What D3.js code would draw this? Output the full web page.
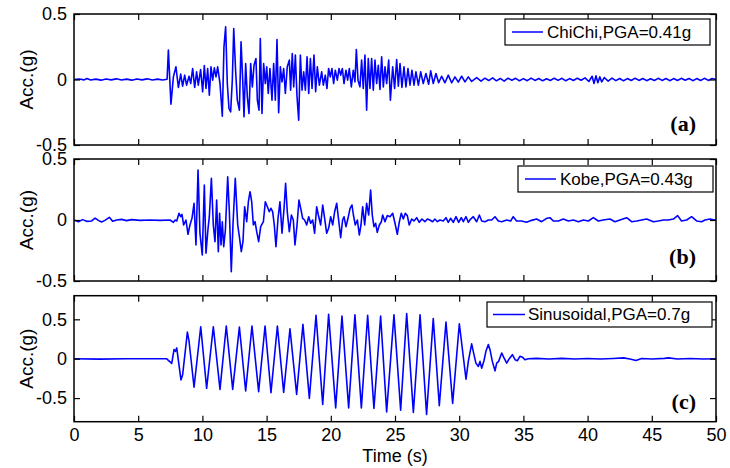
<!DOCTYPE html>
<html>
<head>
<meta charset="utf-8">
<script src="https://cdn.jsdelivr.net/npm/d3@7/dist/d3.min.js"></script>
<style>
  html, body { margin: 0; padding: 0; background: #fff; }
  svg { display: block; }
  text { font-family: "Liberation Sans", Arial, sans-serif; fill: #000; }
</style>
</head>
<body>
<svg id="chart" width="730" height="468"></svg>
<script>
// Time axis ticks (s) and acceleration ticks (g)
const timeTicks = [0, 5, 10, 15, 20, 25, 30, 35, 40, 45, 50];
const accTicks = [-0.5, 0, 0.5];

// Record names shown in the legends
const recordLabels = ["ChiChi,PGA=0.41g", "Kobe,PGA=0.43g", "Sinusoidal,PGA=0.7g"];
const panelTags = ["(a)", "(b)", "(c)"];

// ChiChi record: [time (s), acceleration (g)]
const chichiAcc = [
  [0,0],[0.4,0.004],[0.8,-0.003],[1.0,0.008],[1.3,-0.004],[1.7,0.003],[2.1,-0.005],[2.5,0.004],
  [2.9,-0.003],[3.3,0.005],[3.7,-0.004],[4.1,0.003],[4.5,-0.005],[4.9,0.004],[5.3,-0.003],[5.7,0.005],
  [6.1,-0.004],[6.5,0.003],[6.9,-0.004],[7.25,0.002],
  [7.35,0.224],[7.55,-0.188],[7.74,0.020],[7.94,0.097],[8.13,-0.061],[8.31,0.041],[8.46,-0.051],
  [8.62,0.033],[8.77,-0.043],[8.96,0.025],[9.09,-0.031],[9.24,0.084],[9.40,-0.061],[9.55,0.059],
  [9.68,-0.043],[9.86,0.076],[10.02,-0.094],[10.15,0.107],[10.28,-0.069],[10.41,0.084],[10.54,-0.120],
  [10.67,0.097],[10.80,-0.005],[10.93,0.089],[11.06,0.020],[11.19,0.097],[11.37,-0.031],[11.55,-0.280],
  [11.68,0.249],[11.81,0.402],[11.94,-0.031],[12.07,-0.221],[12.20,-0.247],[12.33,-0.005],[12.44,0.389],
  [12.59,0.059],[12.72,-0.158],[12.88,-0.234],[13.01,0.288],[13.14,-0.005],[13.24,-0.285],[13.37,0.122],
  [13.50,-0.132],[13.63,-0.260],[13.76,0.122],[13.89,-0.056],[14.02,0.109],[14.17,0.160],[14.28,-0.158],
  [14.41,-0.234],[14.51,0.313],[14.64,-0.260],[14.77,0.122],[14.90,-0.031],[15.01,0.097],[15.13,-0.107],
  [15.26,0.084],[15.42,-0.158],[15.55,0.122],[15.68,-0.158],[15.81,0.305],[15.94,-0.254],[16.07,0.097],
  [16.20,-0.018],[16.33,0.084],[16.46,-0.107],[16.61,0.097],[16.77,0.148],[16.87,-0.081],[17.00,0.198],
  [17.11,-0.056],[17.24,0.186],[17.37,-0.132],[17.50,-0.310],[17.63,0.186],[17.76,-0.081],[17.89,0.059],
  [18.02,-0.081],[18.15,0.173],[18.28,-0.107],[18.41,0.160],[18.54,-0.069],[18.69,0.186],[18.82,-0.094],
  [18.95,0.097],[19.11,-0.043],[19.29,0.059],[19.42,-0.043],[19.57,0.033],[19.70,-0.069],[19.83,0.084],
  [19.96,0.020],[20.09,0.084],[20.22,-0.031],[20.35,0.071],[20.51,-0.005],[20.64,0.084],[20.77,0.033],
  [20.90,0.084],[21.03,-0.031],[21.18,0.071],[21.31,-0.005],[21.44,0.084],[21.60,-0.056],[21.75,0.071],
  [21.88,-0.018],[21.99,0.229],[22.12,-0.005],[22.27,-0.056],[22.40,0.148],[22.53,-0.069],[22.66,0.186],
  [22.79,-0.234],[22.92,0.160],[23.05,-0.069],[23.18,0.160],[23.31,-0.081],[23.44,0.148],[23.57,-0.031],
  [23.70,0.109],[23.83,-0.076],[23.96,0.173],[24.09,-0.056],[24.22,0.097],[24.35,-0.031],[24.51,0.148],
  [24.64,-0.158],[24.82,0.097],[24.97,-0.069],[25.13,0.153],[25.26,-0.051],[25.39,0.122],[25.54,-0.061],
  [25.70,0.097],[25.85,-0.056],[26.01,0.084],[26.17,-0.043],[26.32,0.071],[26.48,-0.043],[26.63,0.059],
  [26.82,-0.043],[27.00,0.059],[27.20,-0.031],[27.41,0.046],[27.62,-0.036],[27.78,0.066],[27.98,-0.031],
  [28.19,0.046],[28.40,-0.025],[28.63,0.025],[28.89,-0.025],[29.15,0.033],[29.41,-0.025],[29.67,0.020],
  [29.93,-0.020],[30.19,0.025],[30.45,-0.018],[30.71,0.020],[30.97,-0.015],[31.36,0.015],
  [31.7,-0.012],[32.0,0.010],[32.3,-0.008],[32.6,0.012],[32.9,-0.010],[33.2,0.008],[33.5,-0.012],
  [33.8,0.010],[34.1,-0.006],[34.4,0.009],[34.7,-0.010],[35.0,0.007],[35.3,-0.009],[35.6,0.011],
  [35.9,-0.007],[36.2,0.008],[36.5,-0.010],[36.8,0.006],[37.1,-0.008],[37.4,0.010],[37.7,-0.007],
  [38.0,0.009],[38.3,-0.010],[38.6,0.007],[38.9,-0.008],[39.2,0.010],[39.5,-0.006],[39.8,0.012],
  [40.1,-0.015],[40.35,0.025],[40.5,-0.030],[40.65,0.028],[40.8,-0.025],[40.95,0.020],[41.1,-0.018],
  [41.3,0.015],[41.6,-0.012],[41.9,0.010],[42.2,-0.009],[42.5,0.008],[42.8,-0.010],[43.1,0.007],
  [43.4,-0.008],[43.7,0.010],[44.0,-0.007],[44.3,0.008],[44.6,-0.009],[44.9,0.006],[45.2,-0.008],
  [45.5,0.009],[45.8,-0.007],[46.1,0.008],[46.4,-0.009],[46.7,0.007],[47.0,-0.008],[47.3,0.009],
  [47.6,-0.006],[47.9,0.008],[48.2,-0.009],[48.5,0.007],[48.8,-0.008],[49.1,0.009],[49.4,-0.007],
  [49.7,0.008],[50,0]
];

// Kobe record: [time (s), acceleration (g)]
const kobeAcc = [
  [0,0],[0.34,-0.014],[0.67,0.003],[0.99,-0.011],[1.38,-0.008],[1.64,0.016],[1.90,-0.003],[2.15,-0.016],
  [2.41,-0.003],[2.75,0.022],[3.01,-0.011],[3.32,0],[3.71,0.005],[4.10,-0.005],[4.49,0.003],[5.14,-0.003],
  [5.92,0],[6.70,-0.003],[7.48,0],[7.74,-0.019],[7.87,0],[8.0,-0.008],
  [8.18,0.055],[8.31,0.027],[8.41,0.046],[8.54,-0.041],[8.72,0],[8.88,-0.117],[9.03,-0.041],[9.19,0.014],
  [9.35,0.137],[9.50,-0.205],[9.66,0.410],[9.81,-0.109],[9.99,-0.287],[10.15,0.287],[10.28,-0.273],
  [10.44,-0.068],[10.54,0.027],[10.70,0.342],[10.85,-0.041],[10.98,-0.178],[11.11,0.164],[11.24,-0.260],
  [11.34,0.055],[11.45,-0.205],[11.55,-0.014],[11.66,-0.219],[11.79,-0.082],[11.97,0.355],[12.10,0.068],
  [12.25,-0.423],[12.38,-0.041],[12.56,0.342],[12.75,-0.041],[12.88,-0.137],[13.03,-0.260],[13.16,-0.178],
  [13.29,0.109],[13.45,-0.014],[13.58,0.150],[13.71,0.232],[13.84,0.150],[13.97,-0.041],[14.10,-0.014],
  [14.23,-0.096],[14.38,-0.178],[14.54,-0.055],[14.75,-0.014],[14.90,0.150],[15.06,0.109],[15.21,0.068],
  [15.34,0.096],[15.47,0.068],[15.60,-0.041],[15.73,-0.219],[15.89,0.014],[16.04,0.150],[16.20,-0.109],
  [16.36,0.096],[16.48,0.301],[16.61,0.068],[16.77,-0.096],[16.93,0.041],[17.08,0],[17.21,-0.205],
  [17.37,-0.041],[17.52,0.164],[17.68,0.082],[17.81,0.014],[17.96,0],[18.12,-0.041],[18.28,0.027],
  [18.43,-0.027],[18.59,0],[18.74,-0.109],[18.90,0.109],[19.03,0.041],[19.21,-0.041],[19.37,0.123],
  [19.52,0.014],[19.68,-0.109],[19.83,-0.068],[19.99,0.027],[20.15,-0.041],[20.30,0.068],[20.46,0.137],
  [20.61,0],[20.77,-0.145],[20.92,0],[21.03,0.027],[21.18,-0.055],[21.34,0.014],[21.50,0.096],
  [21.65,0.123],[21.76,0.041],[21.91,-0.041],[22.07,0],[22.22,-0.123],[22.35,-0.041],[22.48,0.109],
  [22.64,-0.041],[22.79,0.137],[22.95,0.041],[23.10,0.246],[23.23,0.041],[23.36,-0.055],[23.49,-0.027],
  [23.62,-0.101],[23.78,-0.041],[23.94,-0.014],[24.04,0.041],[24.22,-0.014],[24.40,0.036],[24.61,0.027],
  [24.82,0.055],[25.0,-0.027],[25.18,-0.117],[25.34,-0.014],[25.49,0.055],[25.65,0.008],[25.80,0.055],
  [25.96,0.036],[26.11,-0.041],[26.30,0.008],[26.48,-0.008],[26.69,0.019],[26.89,-0.019],[27.10,0.008],
  [27.33,-0.014],[27.52,0.008],[27.72,0],[27.93,-0.014],[28.11,0.008],[28.30,-0.014],[28.50,0],
  [28.76,-0.008],[28.97,0.019],[29.15,-0.019],[29.33,0.014],[29.54,-0.019],[29.75,0.027],[29.96,-0.019],
  [30.16,0.019],[30.32,-0.014],[30.53,0.027],[30.71,-0.019],[30.89,0.008],[31.10,0.027],[31.36,-0.014],
  [31.57,0.041],[31.75,-0.008],[32.01,-0.014],[32.27,0],[32.53,0],[32.79,0.027],[33.05,-0.008],
  [33.31,-0.014],[33.70,0],[34.01,-0.008],[34.21,0.027],[34.47,-0.008],[34.86,-0.008],[35.25,-0.019],
  [35.64,-0.003],[36.03,0.008],[36.42,-0.014],[36.81,0.014],[37.07,0.019],[37.33,-0.008],[37.72,-0.008],
  [38.11,0.008],[38.50,-0.008],[38.89,0],[39.28,-0.014],[39.67,0],[40.06,-0.008],[40.45,0.019],
  [40.83,-0.008],[41.22,0],[41.74,0.008],[42.13,-0.014],[42.52,0],[43.04,0.019],[43.43,-0.014],
  [43.82,-0.008],[44.21,0],[44.60,0.008],[45.12,-0.014],[45.51,-0.008],[45.90,0],[46.29,0],[46.68,0.008],
  [47.01,0.036],[47.32,-0.008],[47.71,0],[48.10,0.027],[48.49,-0.008],[48.88,-0.014],[49.14,0],
  [49.53,0.008],[49.92,0],[50,0]
];

// Sinusoidal excitation: [time (s), acceleration (g)]
const sineAcc = [
  [0,0],[2,-0.005],[4,0],[7.2,0],
  [7.61,-0.060],[7.79,0.115],[7.9,0.094],[8.0,0.137],[8.33,-0.270],[8.46,-0.205],[8.83,0.338],[8.96,0.222],
  [9.35,-0.363],[9.87,0.406],[10.33,-0.376],[10.85,0.406],[11.37,-0.389],[11.86,0.415],[12.36,-0.389],
  [12.88,0.402],[13.37,-0.410],[13.86,0.415],[14.38,-0.419],[14.88,0.415],[15.34,-0.432],[15.84,0.415],
  [16.33,-0.427],[16.82,0.380],[17.34,-0.453],[17.83,0.436],[18.33,-0.504],[18.85,0.551],[19.37,-0.581],
  [19.83,0.564],[20.38,-0.624],[20.87,0.543],[21.39,-0.624],[21.88,0.556],[22.38,-0.624],[22.87,0.551],
  [23.36,-0.632],[23.88,0.543],[24.35,-0.675],[24.92,0.556],[25.44,-0.654],[25.91,0.573],[26.43,-0.684],
  [26.95,0.556],[27.46,-0.709],[27.98,0.509],[28.45,-0.598],[28.97,0.466],[29.49,-0.568],[30.01,0.444],
  [30.53,-0.261],[30.71,-0.034],[30.97,0.188],[31.15,0.051],[31.30,-0.056],[31.49,-0.098],[31.62,-0.034],
  [31.75,-0.120],[31.93,-0.026],[32.08,0.094],[32.27,0.179],[32.40,0.115],[32.58,-0.034],[32.79,-0.154],
  [32.92,-0.056],[33.07,-0.034],[33.31,0.073],[33.49,0.009],[33.70,-0.056],[33.90,0],[34.14,0.051],
  [34.35,-0.013],[34.53,-0.026],[34.73,0.030],[34.94,0.017],[35.12,-0.013],[35.38,0],
  [36,0.004],[37,-0.003],[38,0.004],[39,-0.003],[40,0.003],[41,-0.004],[42,0.003],[42.8,0.010],
  [43.3,-0.004],[43.77,-0.022],[44.2,0.003],[45,-0.003],[46,0.004],[46.3,0.010],[47,-0.003],[48,0.003],
  [49,-0.003],[50,0]
];

const svg = d3.select("#chart");
const x = d3.scaleLinear().domain([0, 50]).range([74, 716]);
const fmt = d => (d === 0 ? "0" : String(d));

const panels = [
  { data: chichiAcc, yDomain: [-0.5, 0.5], top: 14,    bottom: 145,   legend: [505, 19, 205, 26],  lineX: [512, 543], textX: 547, tagY: 131 },
  { data: kobeAcc,   yDomain: [-0.5, 0.5], top: 159,   bottom: 281,   legend: [518, 166, 195, 26], lineX: [525, 556], textX: 560, tagY: 264 },
  { data: sineAcc,   yDomain: [-0.8, 0.8], top: 295.7, bottom: 421.7, legend: [487, 302, 225, 25], lineX: [493, 525], textX: 528, tagY: 409 }
];

panels.forEach((p, i) => {
  const y = d3.scaleLinear().domain(p.yDomain).range([p.bottom, p.top]);
  const g = svg.append("g");
  const clipId = "clip" + i;

  svg.append("clipPath").attr("id", clipId)
    .append("rect").attr("x", x(0)).attr("y", p.top)
    .attr("width", x(50) - x(0)).attr("height", p.bottom - p.top);

  // acceleration trace
  g.append("path")
    .datum(p.data)
    .attr("clip-path", `url(#${clipId})`)
    .attr("fill", "none")
    .attr("stroke", "#0000ff")
    .attr("stroke-width", 1.6)
    .attr("stroke-linejoin", "round")
    .attr("d", d3.line().x(d => x(d[0])).y(d => y(d[1])));

  // axes with inward ticks on all four sides
  const last = i === panels.length - 1;
  const bottomAxis = d3.axisBottom(x).tickValues(timeTicks).tickSizeInner(-6).tickSizeOuter(0).tickPadding(7)
    .tickFormat(last ? fmt : () => "");
  const topAxis = d3.axisTop(x).tickValues(timeTicks).tickSizeInner(-6).tickSizeOuter(0).tickFormat(() => "");
  const leftAxis = d3.axisLeft(y).tickValues(accTicks).tickSizeInner(-6).tickSizeOuter(0).tickPadding(7).tickFormat(fmt);
  const rightAxis = d3.axisRight(y).tickValues(accTicks).tickSizeInner(-6).tickSizeOuter(0).tickFormat(() => "");

  const axes = [
    [bottomAxis, `translate(0,${p.bottom})`],
    [topAxis, `translate(0,${p.top})`],
    [leftAxis, `translate(${x(0)},0)`],
    [rightAxis, `translate(${x(50)},0)`]
  ];
  axes.forEach(([ax, tr]) => {
    const a = g.append("g").attr("transform", tr).call(ax);
    a.select(".domain").remove();
    a.selectAll(".tick line").attr("stroke", "#000").attr("stroke-width", 1.2);
    a.selectAll(".tick text").style("font-size", "18px")
      .style("font-family", '"Liberation Sans", Arial, sans-serif').attr("fill", "#000");
  });

  // frame
  g.append("rect")
    .attr("x", x(0)).attr("y", p.top)
    .attr("width", x(50) - x(0)).attr("height", p.bottom - p.top)
    .attr("fill", "none").attr("stroke", "#000").attr("stroke-width", 1.5);

  // y label
  g.append("text")
    .attr("transform", `translate(33,${(p.top + p.bottom) / 2}) rotate(-90)`)
    .attr("text-anchor", "middle")
    .style("font-size", "19px")
    .text("Acc.(g)");

  // legend
  const [lx, ly, lw, lh] = p.legend;
  g.append("rect").attr("x", lx).attr("y", ly).attr("width", lw).attr("height", lh)
    .attr("fill", "#fff").attr("stroke", "#000").attr("stroke-width", 1.2);
  g.append("line").attr("x1", p.lineX[0]).attr("x2", p.lineX[1])
    .attr("y1", ly + lh / 2).attr("y2", ly + lh / 2)
    .attr("stroke", "#0000ff").attr("stroke-width", 1.5);
  g.append("text").attr("x", p.textX).attr("y", ly + lh / 2).attr("dy", "0.35em")
    .style("font-size", "17px").text(recordLabels[i]);

  // panel tag
  g.append("text").attr("x", 696).attr("y", p.tagY).attr("text-anchor", "end")
    .style("font-family", '"Liberation Serif", "DejaVu Serif", serif')
    .style("font-weight", "bold").style("font-size", "22px")
    .text(panelTags[i]);
});

// x label
svg.append("text").attr("x", 395).attr("y", 462).attr("text-anchor", "middle")
  .style("font-size", "18px").text("Time (s)");
</script>
</body>
</html>
